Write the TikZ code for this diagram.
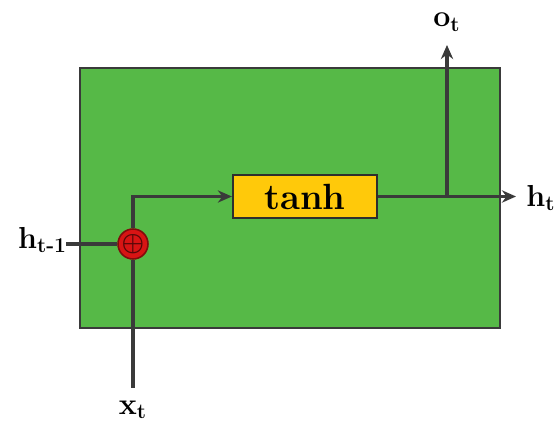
\documentclass[tikz,border=0pt]{standalone}
\usetikzlibrary{arrows.meta, positioning}
\definecolor{cellGreen}{HTML}{56B947}
\definecolor{gateYellow}{HTML}{FFC90A}
\definecolor{addRed}{HTML}{D81414}
\definecolor{lineGray}{HTML}{3A3A3A}

\begin{document}
\begin{tikzpicture}[
    font=\bfseries,
    % Cell body
    cell/.style={
        rectangle,
        fill=cellGreen,
        draw=lineGray,
        line width=1.3pt,
        minimum width=8.4cm,
        minimum height=5.2cm
    },
    % Activation box
    gate/.style={
        rectangle,
        fill=gateYellow,
        draw=lineGray!80!black,
        line width=1.3pt,
        minimum width=2.88cm,
        minimum height=0.86cm,
        font=\huge\bfseries
    },
    % Addition node
    adder/.style={
        circle,
        fill=addRed,
        draw=addRed!60!black,
        line width=0.9pt,
        minimum size=0.6cm,
        inner sep=0pt,
        text=addRed!40!black,
        font=\Large\boldmath
    },
    % Signal labels
    signal/.style={
        font=\LARGE\bfseries,
        inner sep=1pt
    },
    % Connecting lines
    wire/.style={
        draw=lineGray,
        line width=2pt
    },
    flow/.style={
        wire,
        -{Stealth[length=8pt, width=7pt]}
    }
]
\useasboundingbox (0,0) rectangle (11.2,8.66);

% --- CELL ---
\node[cell] (Cell) at (5.8,4.7) {};

% --- INNER NODES ---
\node[gate] (Tanh) at (6.1,4.73) {tanh};
\node[adder] (Add) at (2.66,3.78) {$\oplus$};

% --- LABELS ---
\node[signal] (PrevH) at (0.85,3.86) {h\textsubscript{t-1}};
\node[signal] (InX) at (2.66,0.46) {x\textsubscript{t}};
\node[signal] (OutH) at (10.82,4.7) {h\textsubscript{t}};
\node[signal] (OutO) at (8.94,8.22) {o\textsubscript{t}};
\coordinate (InEnd) at (2.66,0.9);
\coordinate (PrevEnd) at (1.32,3.78);
\coordinate (Split) at (8.94,4.73);
\coordinate (OutEnd) at (10.32,4.73);
\coordinate (UpEnd) at (8.94,7.76);

% --- CONNECTIONS ---
\draw[wire] (PrevEnd) -- (Add.west);
\draw[wire] (InEnd) -- (Add.south);
\draw[flow] (Add.north) |- (Tanh.west);
\draw[flow] (Tanh.east) -- (OutEnd);
\draw[flow] (Split) -- (UpEnd);

\end{tikzpicture}
\end{document}
